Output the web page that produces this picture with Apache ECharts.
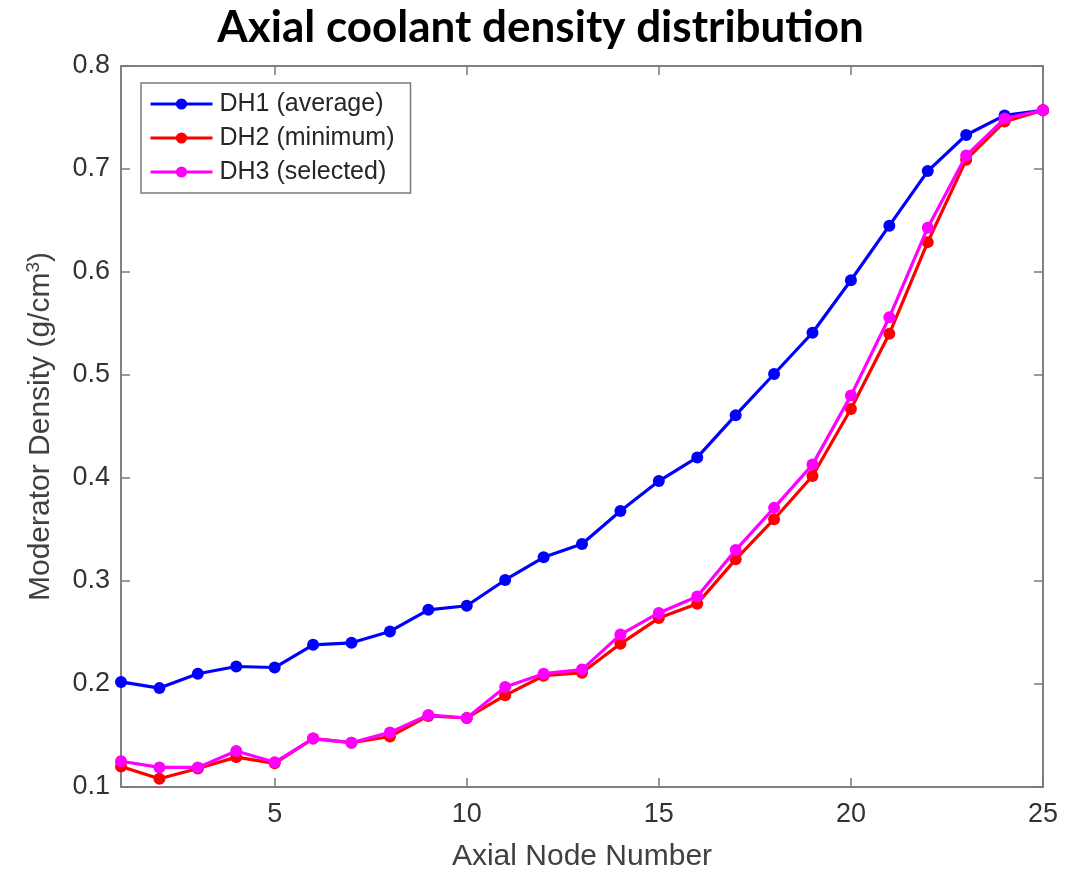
<!DOCTYPE html>
<html><head><meta charset="utf-8">
<script src="https://cdn.jsdelivr.net/npm/echarts@6/dist/echarts.min.js"></script>
<style>html,body{margin:0;padding:0;background:#fff}#c{width:1081px;height:877px}</style>
</head><body><div id="c"></div>
<script>
const nodes = [1,2,3,4,5,6,7,8,9,10,11,12,13,14,15,16,17,18,19,20,21,22,23,24,25];
const dh1 = [0.202,0.196,0.210,0.217,0.216,0.238,0.240,0.251,0.272,0.276,0.301,0.323,0.336,0.368,0.397,0.420,0.461,0.501,0.541,0.592,0.645,0.698,0.733,0.752,0.757];
const dh2 = [0.120,0.108,0.118,0.129,0.123,0.147,0.143,0.149,0.169,0.167,0.189,0.208,0.211,0.239,0.264,0.278,0.321,0.360,0.402,0.467,0.540,0.629,0.709,0.746,0.757];
const dh3 = [0.125,0.119,0.119,0.135,0.124,0.147,0.143,0.153,0.170,0.167,0.197,0.210,0.214,0.248,0.269,0.285,0.330,0.371,0.413,0.480,0.556,0.643,0.713,0.749,0.757];
const xTicks = [5,10,15,20,25];
const names = ['DH1 (average)','DH2 (minimum)','DH3 (selected)'];
const colors = ['#0000ff','#ff0000','#ff00ff'];

const chart = echarts.init(document.getElementById('c'), null, {renderer:'canvas'});
const axisColor = '#7a7a7a';
const font = 'Liberation Sans';
const mk = (d) => nodes.map((n,i)=>[n,d[i]]);
const series = [dh1,dh2,dh3].map((d,i)=>({
  name: names[i], type:'line', data: mk(d), xAxisIndex:0, yAxisIndex:0,
  symbol:'circle', symbolSize:12, lineStyle:{width:3.2,color:colors[i]},
  itemStyle:{color:colors[i]}, z: 3+i, animation:false
}));
chart.setOption({
  animation:false,
  title:{text:'Axial coolant density distribution', left:'center', top:1,
    textStyle:{fontFamily:'Lato', fontWeight:'bold', fontSize:44, color:'#000'}},
  grid:{left:121, right:38, top:66, bottom:87, show:true, borderColor:axisColor, borderWidth:1.5},
  legend:{data:names, left:141, top:83, orient:'vertical', itemWidth:62, itemHeight:14, itemGap:8,
    borderColor:axisColor, borderWidth:1.5, padding:[8,16,8,8], backgroundColor:'#fff',
    lineStyle:{width:3}, itemStyle:{borderWidth:0},
    textStyle:{fontFamily:font, fontSize:25, color:'#262626', padding:[0,0,0,2], lineHeight:26}},
  xAxis:[{type:'value', min:1, max:25, position:'bottom',
    name:'Axial Node Number', nameLocation:'middle', nameGap:55,
    nameTextStyle:{fontFamily:font, fontSize:30, color:'#404040'},
    axisLine:{show:true, lineStyle:{color:axisColor, width:1.5}},
    axisTick:{show:true, inside:true, length:9, customValues:xTicks, lineStyle:{color:axisColor, width:1.5}},
    axisLabel:{customValues:xTicks, margin:14, fontFamily:font, fontSize:27, color:'#333'},
    splitLine:{show:false}},
   {type:'value', min:1, max:25, position:'top',
    axisLine:{show:true, lineStyle:{color:axisColor, width:1.5}},
    axisTick:{show:true, inside:true, length:9, customValues:xTicks, lineStyle:{color:axisColor, width:1.5}},
    axisLabel:{show:false}, splitLine:{show:false}}],
  yAxis:[{type:'value', min:0.1, max:0.8, interval:0.1, position:'left',
    name:'Moderator Density (g/cm{sup|3})', nameLocation:'middle', nameGap:64, nameRotate:90,
    nameTextStyle:{fontFamily:font, fontSize:30, color:'#404040',
      rich:{sup:{fontFamily:font, fontSize:19, color:'#404040', verticalAlign:'top', padding:[0,0,14,0]}}},
    axisLine:{show:true, lineStyle:{color:axisColor, width:1.5}},
    axisTick:{show:true, inside:true, length:9, lineStyle:{color:axisColor, width:1.5}},
    axisLabel:{margin:11, fontFamily:font, fontSize:27, color:'#333', formatter:v=>v.toFixed(1)},
    splitLine:{show:false}},
   {type:'value', min:0.1, max:0.8, interval:0.1, position:'right',
    axisLine:{show:true, lineStyle:{color:axisColor, width:1.5}},
    axisTick:{show:true, inside:true, length:9, lineStyle:{color:axisColor, width:1.5}},
    axisLabel:{show:false}, splitLine:{show:false}}],
  series: series
});
</script></body></html>
